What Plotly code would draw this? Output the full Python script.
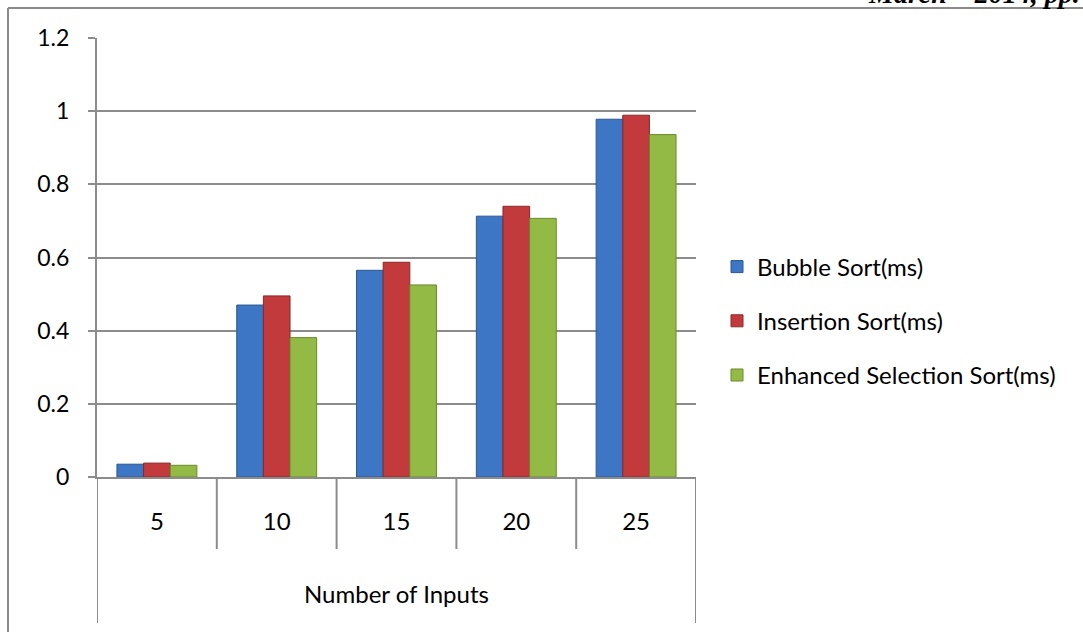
import plotly.graph_objects as go

# Sorting time (ms) by number of inputs
categories = ["5", "10", "15", "20", "25"]
bubble_sort = [0.035, 0.47, 0.565, 0.713, 0.978]
insertion_sort = [0.038, 0.495, 0.587, 0.74, 0.989]
enhanced_selection_sort = [0.032, 0.381, 0.525, 0.707, 0.936]
series_names = ["Bubble Sort(ms)", "Insertion Sort(ms)", "Enhanced Selection Sort(ms)"]

fills = ["#3C76C4", "#C23A3C", "#93BA45"]
edges = ["#2A5790", "#8A2829", "#6A8A2E"]
grid = "#8C8C8C"
font_family = "Lato, Calibri, sans-serif"

fig = go.Figure()
all_series = [bubble_sort, insertion_sort, enhanced_selection_sort]
for i, (name, vals) in enumerate(zip(series_names, all_series)):
    fig.add_trace(go.Bar(
        x=categories, y=vals, name=name, legendgroup=name,
        marker=dict(color=fills[i], line=dict(color=edges[i], width=1)),
    ))

# pixel helpers for the 1083x632 canvas
L, R, T, B = 97, 387, 38, 155
W, H = 1083 - L - R, 632 - T - B
def px(p):
    return (p - L) / W
def py(q):
    return (632 - B - q) / H

shapes = []
# outer frame (top and left)
shapes.append(dict(type="line", xref="paper", yref="paper", x0=px(8), x1=px(1090),
                   y0=py(8), y1=py(8), line=dict(color="#8A8A8A", width=2)))
shapes.append(dict(type="line", xref="paper", yref="paper", x0=px(8), x1=px(8),
                   y0=py(8), y1=py(640), line=dict(color="#8A8A8A", width=2)))
# category dividers below the axis
for k in range(len(categories) + 1):
    xb = k - 0.5
    bottom = 623 if k in (0, len(categories)) else 549
    shapes.append(dict(type="line", xref="x", yref="paper", x0=xb, x1=xb,
                       y0=0, y1=py(bottom), line=dict(color=grid, width=2)))

fig.update_layout(
    width=1083, height=632,
    margin=dict(l=L, r=R, t=T, b=B, pad=0),
    paper_bgcolor="white", plot_bgcolor="white",
    barmode="group", bargap=0.333, bargroupgap=0,
    font=dict(family=font_family, size=24, color="#000000"),
    shapes=shapes,
    legend=dict(x=px(717), xanchor="left", y=py(321), yanchor="middle",
                traceorder="grouped", tracegroupgap=20,
                font=dict(size=24, family=font_family), bgcolor="rgba(0,0,0,0)"),
    annotations=[
        dict(text="Number of Inputs", xref="paper", yref="paper", x=0.5, y=py(593),
             xanchor="center", yanchor="middle", showarrow=False,
             font=dict(size=24, family=font_family)),
        dict(text="<b><i>March – 2014, pp.</i></b>", xref="paper", yref="paper",
             x=px(1081), y=py(10), xanchor="right", yanchor="bottom",
             showarrow=False, borderpad=0,
             font=dict(size=28, family="Liberation Serif", color="#000000")),
    ],
)

fig.update_xaxes(
    type="category", range=[-0.5, 4.5],
    showline=True, linecolor=grid, linewidth=2,
    ticks="", showgrid=False, ticklabelstandoff=22,
    tickfont=dict(size=24, family=font_family),
)
fig.update_yaxes(
    range=[0, 1.2], dtick=0.2, tick0=0,
    showline=True, linecolor=grid, linewidth=2,
    ticks="outside", ticklen=7, tickcolor=grid, tickwidth=2,
    showgrid=True, gridcolor=grid, gridwidth=2, zeroline=False,
    ticklabelstandoff=14,
    tickfont=dict(size=23, family=font_family),
)

fig.write_html("out.html")
